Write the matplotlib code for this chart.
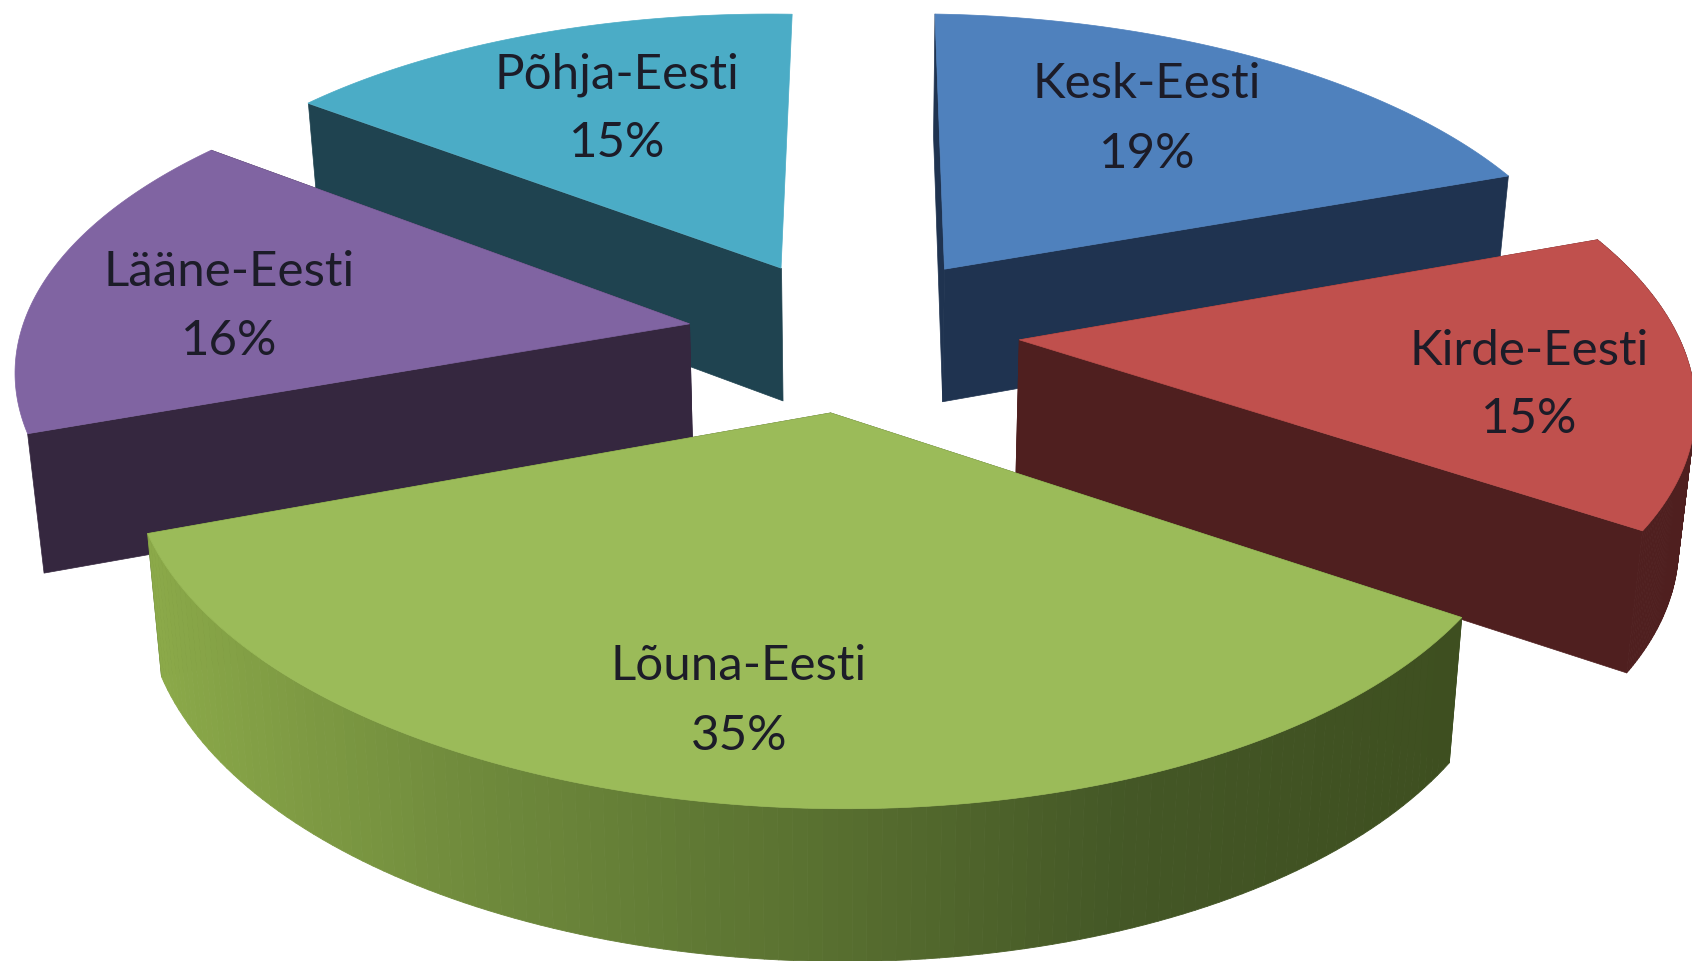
import numpy as np
import matplotlib
matplotlib.use("Agg")
import matplotlib.pyplot as plt
from matplotlib.collections import PolyCollection
from matplotlib.colors import LinearSegmentedColormap

labels = ["Kesk-Eesti", "Kirde-Eesti", "Lõuna-Eesti", "Lääne-Eesti", "Põhja-Eesti"]
values = [19, 15, 35, 16, 15]
top_colors = ["#4F81BD", "#C0504D", "#9BBB59", "#8064A2", "#4BACC6"]
wall_colors = ["#1F3350", "#4F1F1F", "#3E4F20", "#35273F", "#1F4350"]
label_xy = [(1147, 84), (1529, 351), (739, 666), (229, 272), (617, 75)]
pct_xy = [(1147, 154), (1529, 419), (739, 736), (229, 341), (617, 143)]
draw_order = [4, 0, 3, 1, 2]

CX, CY, RX, RY, K, DEPTH, TAPER, EXPLODE = 853.5, 331.0, 664.0, 310.0, 0.149, 135.0, 0.02, 0.25
SHEAR_X, SHEAR_Y = 0.03, 0.02
START_DEG = -0.6
# fine placement of each slice on the page, in pixels
nudge_x = [0, 0, -6, 0, 0]
nudge_y = [0, 0, 3, 6, 6]
# only these slices show their outer rim and, for the first edge/last edge, their cut faces
rim_visible = [False, True, True, False, False]
first_face = [True, True, True, True, True]
last_face = [True, True, True, True, False]


def project(X, Y, i, low=False):
    X, Y = np.asarray(X, float), np.asarray(Y, float)
    w = 1 + K * Y
    px = RX * X / w
    py = -RY * Y / w
    sx = CX + px - SHEAR_X * py
    sy = CY + py + SHEAR_Y * px
    if low:
        sx = sx - px * TAPER
        sy = sy + DEPTH / w ** 0.6
    return sx + nudge_x[i], sy + nudge_y[i]


fig = plt.figure(figsize=(16.92, 9.62), dpi=100, facecolor="white")
ax = fig.add_axes([0, 0, 1, 1])
ax.set_xlim(0, 1692)
ax.set_ylim(962, 0)
ax.axis("off")

edges = np.deg2rad(np.concatenate([[0], np.cumsum(values)]) * 3.6 + START_DEG)
green_wall = LinearSegmentedColormap.from_list(
    "g", ["#8BA949", "#6F8A3C", "#5A7231", "#445726", "#3E4F20"])

for z, i in enumerate(draw_order):
    a0, a1 = edges[i], edges[i + 1]
    mid = (a0 + a1) / 2
    ox, oy = EXPLODE * np.sin(mid), EXPLODE * np.cos(mid)
    th = np.linspace(a0, a1, 121)
    X = ox + np.sin(th)
    Y = oy + np.cos(th)
    tx, ty = project(X, Y, i)
    bx, by = project(X, Y, i, low=True)
    ax0, ay0 = project(ox, oy, i)
    bx0, by0 = project(ox, oy, i, low=True)

    radial = []
    if first_face[i]:
        radial.append([(ax0, ay0), (tx[0], ty[0]), (bx[0], by[0]), (bx0, by0)])
    if last_face[i]:
        radial.append([(ax0, ay0), (tx[-1], ty[-1]), (bx[-1], by[-1]), (bx0, by0)])
    ax.add_collection(PolyCollection(radial, facecolors=wall_colors[i],
                                     edgecolors=wall_colors[i], linewidths=0.5, zorder=z * 3 + 1))
    if rim_visible[i]:
        quads = [[(tx[j], ty[j]), (tx[j + 1], ty[j + 1]), (bx[j + 1], by[j + 1]), (bx[j], by[j])]
                 for j in range(len(th) - 1)]
        if labels[i].startswith("Lõuna"):
            u = (tx[:-1] - tx.min()) / (tx.max() - tx.min())
            cols = green_wall(u)
        else:
            cols = [wall_colors[i]] * len(quads)
        ax.add_collection(PolyCollection(quads, facecolors=cols, edgecolors=cols,
                                         linewidths=0.6, zorder=z * 3 + 2))
    ax.fill(np.r_[ax0, tx], np.r_[ay0, ty], color=top_colors[i], lw=0.5, zorder=z * 3 + 3)

for name, v, (lx, ly), (px, py) in zip(labels, values, label_xy, pct_xy):
    ax.text(lx, ly, name, ha="center", va="center", fontsize=35.5, family="Lato",
            color="#1c1c28", zorder=50)
    ax.text(px, py, f"{v}%", ha="center", va="center", fontsize=35.5, family="Lato",
            color="#1c1c28", zorder=50)

fig.savefig("out.png", dpi=100, facecolor="white")
